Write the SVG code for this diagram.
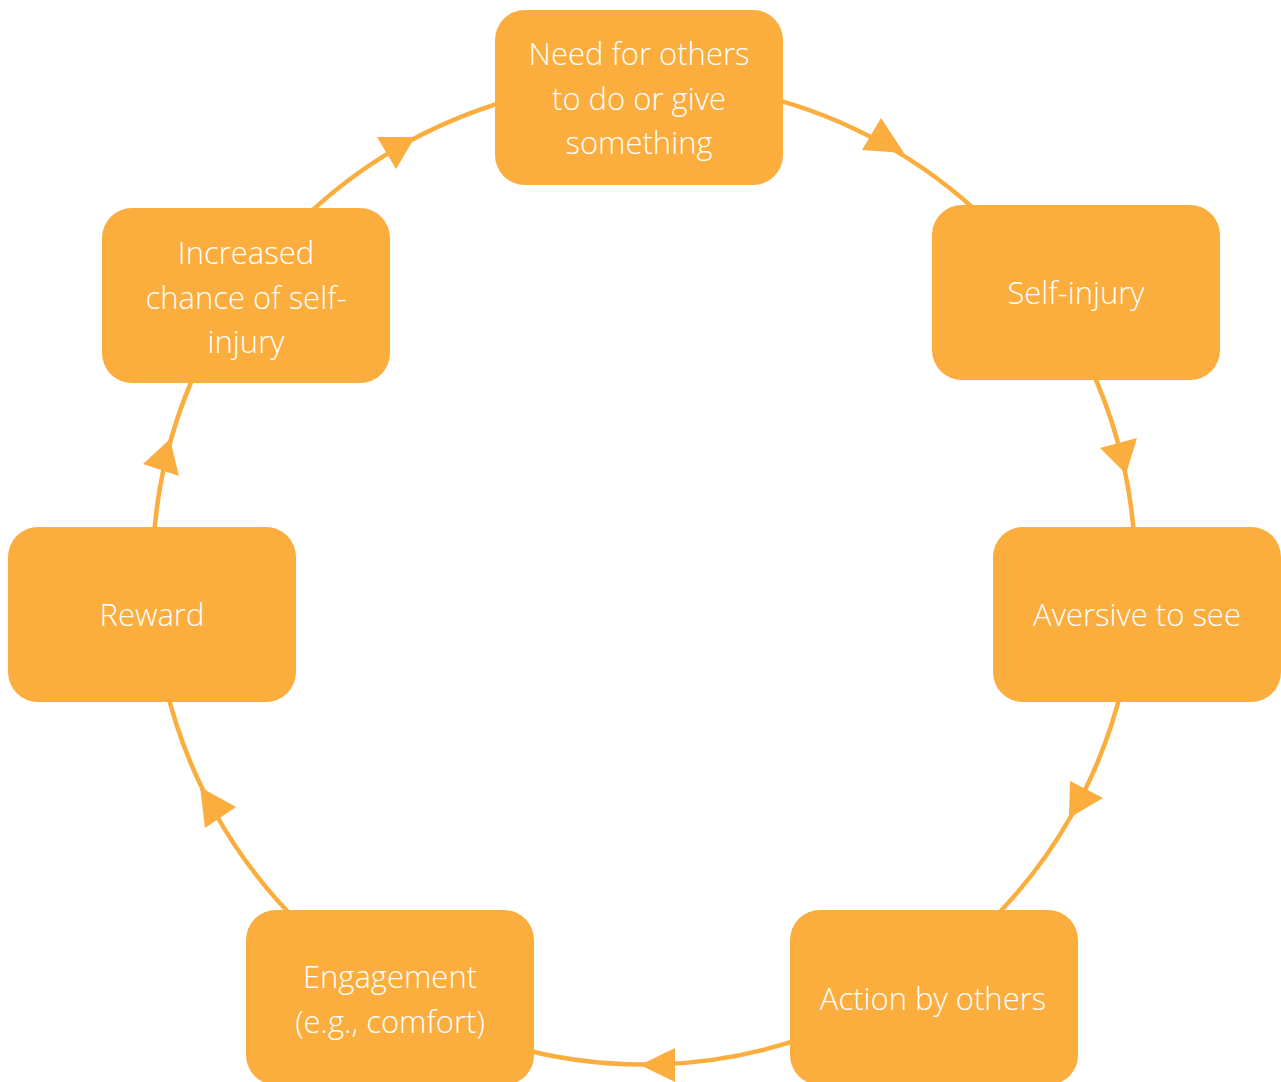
<svg xmlns="http://www.w3.org/2000/svg" width="1281" height="1082" viewBox="0 0 1281 1082">
<style>
.box{fill:#FBAD3D;}
.lbl{fill:#FFFFFF;font-family:"Open Sans","Lato","Liberation Sans",sans-serif;font-weight:300;font-size:31px;text-anchor:middle;}
.arc{fill:none;stroke:#FBAD3D;stroke-width:4.5;}
.head{fill:#FBAD3D;}
</style>
<rect width="1281" height="1082" fill="#FFFFFF"/>
<g id="connectors">
<path class="arc" d="M762.9 96.1 A491.5 491.5 0 0 1 985.4 219.5"/>
<path class="arc" d="M1089.4 365.3 A491.5 491.5 0 0 1 1134.8 547.3"/>
<path class="arc" d="M1122.9 683.6 A491.5 491.5 0 0 1 985.4 926.5"/>
<path class="arc" d="M812.1 1034.9 A491.5 491.5 0 0 1 508.5 1045.5"/>
<path class="arc" d="M302.6 926.5 A491.5 491.5 0 0 1 165.1 683.6"/>
<path class="arc" d="M153.2 547.3 A491.5 491.5 0 0 1 198.6 365.3"/>
<path class="arc" d="M296.5 225.5 A491.5 491.5 0 0 1 516.8 98.3"/>
<polygon class="head" points="904,153 881,118 862,150"/>
<polygon class="head" points="1126,474 1100,448 1137,438"/>
<polygon class="head" points="1069,818 1070,781 1103,798"/>
<polygon class="head" points="640,1065 675,1048 675,1082"/>
<polygon class="head" points="200,787 236,807 205,828"/>
<polygon class="head" points="170,439 143,464 179,476"/>
<polygon class="head" points="415,137 377,137 396,169"/>
</g>
<g id="node-need">
<rect class="box" x="495" y="10" width="288" height="175" rx="30"/>
<text class="lbl" x="639" y="65">Need for others</text>
<text class="lbl" x="639" y="110">to do or give</text>
<text class="lbl" x="639" y="154">something</text>
</g>
<g id="node-self-injury">
<rect class="box" x="932" y="205" width="288" height="175" rx="30"/>
<text class="lbl" x="1076" y="304">Self-injury</text>
</g>
<g id="node-aversive">
<rect class="box" x="993" y="527" width="288" height="175" rx="30"/>
<text class="lbl" x="1137" y="626">Aversive to see</text>
</g>
<g id="node-action">
<rect class="box" x="790" y="910" width="288" height="175" rx="30"/>
<text class="lbl" x="933" y="1010">Action by others</text>
</g>
<g id="node-engagement">
<rect class="box" x="246" y="910" width="288" height="175" rx="30"/>
<text class="lbl" x="390" y="988">Engagement</text>
<text class="lbl" x="390" y="1033">(e.g., comfort)</text>
</g>
<g id="node-reward">
<rect class="box" x="8" y="527" width="288" height="175" rx="30"/>
<text class="lbl" x="152" y="626">Reward</text>
</g>
<g id="node-increased">
<rect class="box" x="102" y="208" width="288" height="175" rx="30"/>
<text class="lbl" x="246" y="264">Increased</text>
<text class="lbl" x="246" y="309">chance of self-</text>
<text class="lbl" x="246" y="353">injury</text>
</g>
</svg>
